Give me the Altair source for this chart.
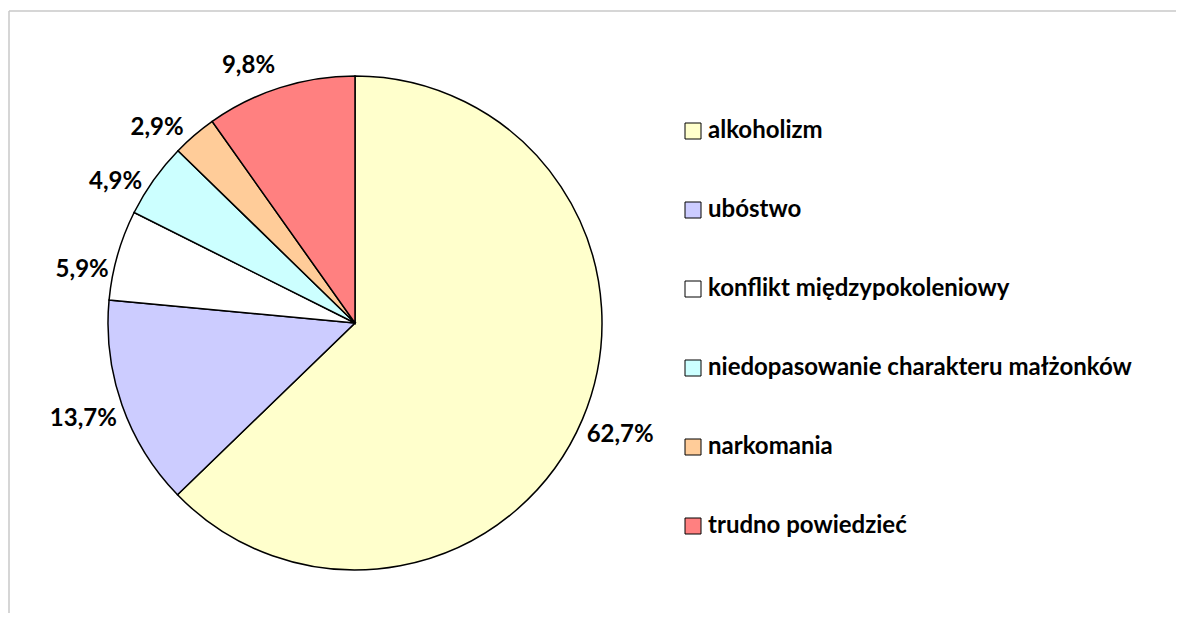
import altair as alt
import pandas as pd

categories = ["alkoholizm", "ubóstwo", "konflikt międzypokoleniowy",
              "niedopasowanie charakteru małżonków", "narkomania", "trudno powiedzieć"]
values = [62.7, 13.7, 5.9, 4.9, 2.9, 9.8]
labels = ["62,7%", "13,7%", "5,9%", "4,9%", "2,9%", "9,8%"]
colors = ["#FFFFCC", "#CCCCFF", "#FFFFFF", "#CCFFFF", "#FFCC99", "#FF8080"]

df = pd.DataFrame({
    "kategoria": categories,
    "wartosc": values,
    "etykieta": labels,
    "kolejnosc": list(range(len(categories))),
})

FONT = "Lato"
CX, CY, R = 347, 315, 247

one = alt.Chart(df).transform_filter(alt.datum.kolejnosc == 0)
frame_top = one.mark_rule(stroke="#c8c8c8", strokeWidth=1.5).encode(
    x=alt.value(1), x2=alt.value(1168), y=alt.value(3)
)
frame_left = one.mark_rule(stroke="#c8c8c8", strokeWidth=1.5).encode(
    x=alt.value(1), y=alt.value(3), y2=alt.value(605)
)

theta_scale = alt.Scale(domain=[0, 1], range=[0, 6.283185307179586])

base = alt.Chart(df).transform_window(
    cum="sum(wartosc)", sort=[alt.SortField("kolejnosc")], frame=[None, 0]
).transform_joinaggregate(
    total="sum(wartosc)"
).transform_calculate(
    t0="(datum.cum - datum.wartosc) / datum.total",
    t1="datum.cum / datum.total",
    tm="(datum.cum - datum.wartosc / 2) / datum.total",
)

pie = base.mark_arc(outerRadius=R, stroke="black", strokeWidth=1.5).encode(
    x=alt.value(CX), y=alt.value(CY),
    theta=alt.Theta("t0:Q", scale=theta_scale),
    theta2="t1:Q",
    color=alt.Color(
        "kategoria:N",
        scale=alt.Scale(domain=categories, range=colors),
        sort=categories,
        legend=alt.Legend(
            title=None, orient="none", legendX=673, legendY=111,
            symbolType="square", symbolSize=256, symbolStrokeColor="black",
            symbolStrokeWidth=1, symbolOpacity=1,
            labelFont=FONT, labelFontSize=24, labelFontWeight="bold",
            labelColor="black", labelLimit=1000, labelOffset=3,
            rowPadding=55, padding=0,
        ),
    ),
)

text_style = dict(font=FONT, fontSize=24, fontWeight="bold",
                  color="black", align="center", baseline="middle")

text_right = base.transform_filter(alt.datum.kolejnosc <= 1).mark_text(
    radius=288, **text_style
).encode(
    x=alt.value(CX), y=alt.value(CY),
    theta=alt.Theta("tm:Q", scale=theta_scale),
    text="etykieta:N",
)

text_left = base.transform_filter(alt.datum.kolejnosc >= 2).mark_text(
    radius=278, thetaOffset=-0.085, **text_style
).encode(
    x=alt.value(CX), y=alt.value(CY),
    theta=alt.Theta("tm:Q", scale=theta_scale),
    text="etykieta:N",
)

chart = alt.layer(frame_top, frame_left, pie, text_right, text_left).properties(
    width=1168, height=605, autosize="none", padding=0,
    background="white",
).configure_view(stroke="transparent", strokeWidth=0)

chart.save("out.html", embed_options={"renderer": "svg", "actions": False})
